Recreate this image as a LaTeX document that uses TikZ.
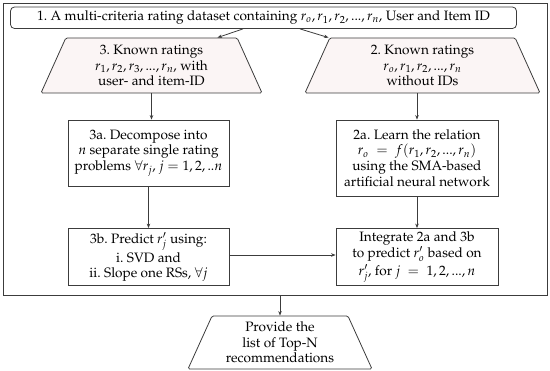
\documentclass[tikz,border=0pt]{standalone}
\usepackage[T1]{fontenc}
\usepackage{mathpazo}
\usetikzlibrary{shapes.geometric,arrows.meta}
\definecolor{lineg}{RGB}{60,60,60}
\definecolor{pinkfill}{RGB}{251,245,245}
\begin{document}
\begin{tikzpicture}[x=1pt,y=-1pt,
    box/.style={draw=lineg, line width=0.8pt, align=center, inner sep=1pt,
        font=\fontsize{13.6}{15.6}\selectfont},
    known/.style={box, trapezium, trapezium angle=60, trapezium stretches body,
        rounded corners=1.5pt},
    arr/.style={draw=lineg, line width=0.8pt, -{Stealth[length=4.5pt,width=3.5pt]}}]
    \useasboundingbox (0,0) rectangle (550,371);
    % Cadre global
    \node[box, minimum width=544pt, minimum height=292pt] (frame) at (275,149) {};
    % Jeu de donnees
    \node[box, rounded corners=4pt, minimum width=506pt, minimum height=21.5pt] (ds) at (263.5,17.75)
        {1.~A multi-criteria rating dataset containing $r_o, r_1, r_2, ..., r_n$, User and Item ID};
    % Notes connues
    \node[known, fill=pinkfill, minimum width=221pt, minimum height=55pt] (known3) at (151.5,65.5)
        {3.~Known ratings\\ $r_1, r_2, r_3, ..., r_n$, with\\ user- and item-ID};
    \node[known, fill=pinkfill, minimum width=235pt, minimum height=55pt] (known2) at (422.5,65.5)
        {2.~Known ratings\\ $r_o, r_1, r_2, ..., r_n$\\ without IDs};
    % Branche gauche
    \node[box, minimum width=161pt, minimum height=66pt] (decomp) at (148.5,153)
        {3a.~Decompose into\\ $n$ separate single rating\\ problems $\forall r_j$, $j = 1, 2, ..n$};
    \node[box, minimum width=161pt, minimum height=57pt] (predict) at (148.5,257)
        {3b.~Predict $r'_j$ using:\\[1pt] i.~SVD and\\ ii.~Slope one RSs, $\forall j$};
    % Branche droite
    \node[box, minimum width=162pt, minimum height=76pt] (learn) at (417,158)
        {2a.~Learn the relation\\ $r_o \;=\; f(r_1, r_2, ..., r_n)$\\ using the SMA-based\\ artificial neural network};
    \node[box, minimum width=162pt, minimum height=57pt] (integ) at (417,257)
        {Integrate 2a and 3b\\[1pt] to predict $r'_o$ based on\\[2pt] $r'_j$, for $j \;=\; 1, 2, ..., n$};
    % Sortie
    \node[known, trapezium angle=61, minimum width=184pt, minimum height=53pt] (topn) at (280,342.5)
        {Provide the\\ list of Top-N\\ recommendations};
    % Fleches
    \draw[arr] ([xshift=-20.5pt]ds.south) -- ([xshift=-20pt]known3.top right corner);
    \draw[arr] ([xshift=36.5pt]ds.south) -- ([xshift=-1pt]known2.top left corner);
    \draw[arr] (known3.south) -- (known3.south |- decomp.north);
    \draw[arr] (known2.south -| learn.north) -- (learn.north);
    \draw[arr] (decomp.south) -- (predict.north);
    \draw[arr] (learn.south) -- (integ.north);
    \draw[arr] ([yshift=2pt]predict.east) -- ([yshift=2pt]integ.west);
    \draw[arr] (frame.south -| topn.north) -- (topn.north);
\end{tikzpicture}
\end{document}
